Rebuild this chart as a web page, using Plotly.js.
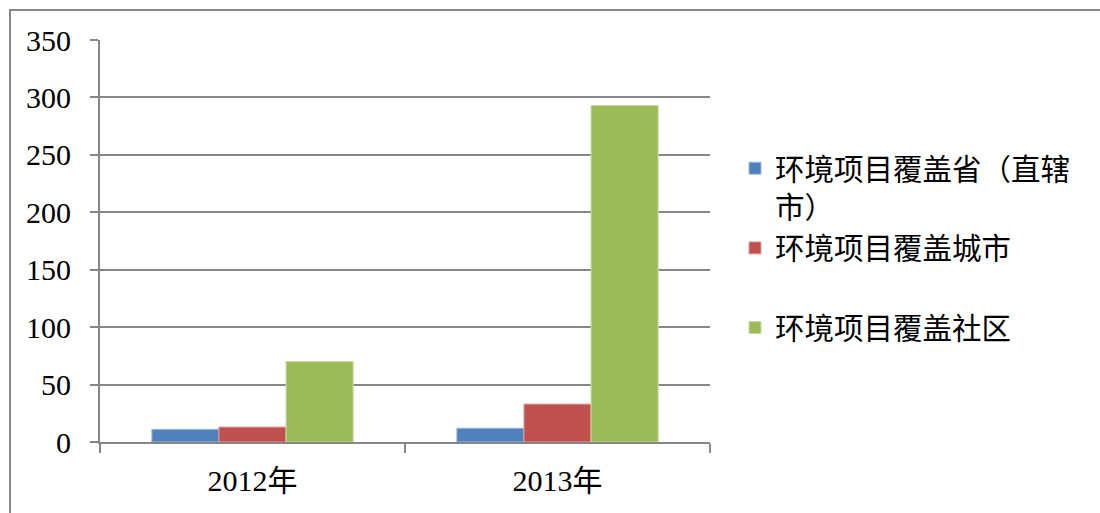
<!DOCTYPE html>
<html>
<head>
<meta charset="utf-8">
<script src="https://cdn.plot.ly/plotly-3.0.1.min.js"></script>
<style>html,body{margin:0;padding:0;background:#fff;}#chart{width:1100px;height:513px;}</style>
</head>
<body>
<div id="chart"></div>
<script>
const categories = ["2012年", "2013年"];
const seriesNames = ["环境项目覆盖省（直辖<br>市）", "环境项目覆盖城市<br>\u00a0", "环境项目覆盖社区"];
const provinces = [11, 12];
const cities = [13, 33];
const communities = [70, 293];
const colors = ["#4F81BD", "#C0504D", "#9BBB59"];
const lineColors = ["#9FB7DA", "#DCA19F", "#C8DCA6"];
const yTicks = [0, 50, 100, 150, 200, 250, 300, 350];

const values = [provinces, cities, communities];
const traces = values.map((v, i) => ({
  type: "bar",
  x: categories,
  y: v,
  name: seriesNames[i],
  marker: {color: colors[i], line: {color: lineColors[i], width: 1}},
  hoverinfo: "x+y"
}));

const grid = "#868686";
const layout = {
  width: 1100,
  height: 513,
  margin: {l: 100, r: 390, t: 40, b: 71, pad: 0, autoexpand: false},
  paper_bgcolor: "#ffffff",
  plot_bgcolor: "#ffffff",
  barmode: "group",
  bargap: 0.34,
  bargroupgap: 0,
  showlegend: true,
  legend: {
    x: 1.041, y: 0.745, xanchor: "left", yanchor: "top",
    valign: "top",
    font: {family: "Noto Sans CJK SC", size: 29.5, color: "#000"},
    itemwidth: 30,
    tracegroupgap: 0,
    bgcolor: "rgba(0,0,0,0)"
  },
  xaxis: {
    type: "category",
    showline: true, linecolor: grid, linewidth: 2,
    ticks: "outside", tickson: "boundaries", ticklen: 9, tickcolor: grid, tickwidth: 2,
    showgrid: false,
    tickfont: {family: "Liberation Serif, Noto Sans CJK SC", size: 30, color: "#000"},
    ticklabelstandoff: 11,
    fixedrange: true
  },
  yaxis: {
    range: [0, 350],
    tickvals: yTicks,
    ticktext: yTicks.map(String),
    showline: true, linecolor: grid, linewidth: 2,
    ticks: "outside", ticklen: 8, tickcolor: grid, tickwidth: 2,
    showgrid: true, gridcolor: grid, gridwidth: 2,
    zeroline: false,
    tickfont: {family: "Liberation Serif", size: 30, color: "#000"},
    ticklabelstandoff: 13,
    fixedrange: true
  },
  shapes: [{
    type: "rect", xref: "paper", yref: "paper",
    x0: -0.1475, x1: 2, y0: -0.5, y1: 1.0747,
    line: {color: grid, width: 2}, fillcolor: "rgba(0,0,0,0)", layer: "below"
  }]
};

Plotly.newPlot("chart", traces, layout, {displayModeBar: false, staticPlot: true});
</script>
</body>
</html>
